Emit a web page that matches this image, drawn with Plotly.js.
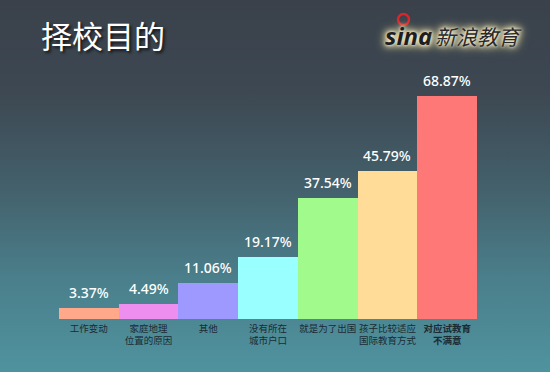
<!DOCTYPE html>
<html>
<head>
<meta charset="utf-8">
<script src="https://cdn.plot.ly/plotly-3.0.1.min.js"></script>
<style>
html,body{margin:0;padding:0;}
body{width:550px;height:372px;overflow:hidden;
background:linear-gradient(to bottom,#3a414b 0%,#3d4852 25%,#43606b 50%,#4a7f8b 75%,#4f939f 100%);}
#chart{width:550px;height:372px;}
</style>
</head>
<body>
<div id="chart"></div>
<script>
const categories = ['工作变动','家庭地理<br>位置的原因','其他','没有所在<br>城市户口','就是为了出国','孩子比较适应<br>国际教育方式','<b>对应试教育<br>不满意</b>'];
const values = [3.37, 4.49, 11.06, 19.17, 37.54, 45.79, 68.87];
const valueLabels = ['3.37%','4.49%','11.06%','19.17%','37.54%','45.79%','68.87%'];
const barColors = ['#FFA98A','#EE8FEF','#9E99FF','#99FFFF','#A0FA8C','#FFDD98','#FF7878'];
const titleText = '择校目的';

const W = 550, H = 372, ML = 59, MR = 73, MT = 30, MB = 53;
const PW = W - ML - MR, PH = H - MT - MB;
const px = x => (x - ML) / PW;
const py = y => (H - MB - y) / PH;

const idx = categories.map((c, i) => i);

const trace = {
  type: 'bar',
  x: idx,
  y: values,
  marker: {color: barColors, line: {width: 0}},
  hoverinfo: 'skip'
};

const valueAnn = idx.map(i => ({
  x: i, y: values[i], xref: 'x', yref: 'y',
  text: valueLabels[i], showarrow: false,
  yanchor: 'bottom', yshift: 4,
  font: {family: 'Noto Sans, Open Sans, sans-serif', size: 14, weight: 500, color: '#ffffff'}
}));

const glow = '0 0 3px #fffbe6, 0 0 6px #fff6cc, 0 0 9px #f3e6a8, 0 0 12px #e8d890';
const logoAnn = [
  {xref: 'paper', yref: 'paper', x: px(408), y: py(36), xanchor: 'center', yanchor: 'middle',
   text: '<b><i>sina</i></b>', showarrow: false,
   font: {family: 'Noto Sans, sans-serif', size: 24, color: '#1e1e22', shadow: glow}},
  {xref: 'paper', yref: 'paper', x: px(478), y: py(36), xanchor: 'center', yanchor: 'middle',
   text: '新浪教育', showarrow: false,
   font: {family: 'Noto Sans CJK SC, sans-serif', size: 21, style: 'italic', color: '#2a2a2e', shadow: glow}}
];

const layout = {
  width: W, height: H,
  margin: {l: ML, r: MR, t: MT, b: MB},
  paper_bgcolor: 'rgba(0,0,0,0)',
  plot_bgcolor: 'rgba(0,0,0,0)',
  showlegend: false,
  bargap: 0,
  title: {
    text: titleText, xref: 'container', yref: 'container',
    x: 41 / W, xanchor: 'left', y: 1 - 37 / H, yanchor: 'middle',
    font: {family: 'Noto Sans CJK SC, sans-serif', size: 31, color: '#ffffff',
           shadow: '2px 2px 3px rgba(0,0,0,0.7)'}
  },
  xaxis: {
    range: [-0.5, 6.5], tickmode: 'array', tickvals: idx, ticktext: categories,
    tickangle: 0, ticklabelstandoff: 2,
    showgrid: false, zeroline: false, showline: false, ticks: '',
    tickfont: {family: 'Noto Sans CJK SC, sans-serif', size: 9.5, color: '#1c2b33'},
    fixedrange: true
  },
  yaxis: {
    range: [0, 89.3], visible: false, showgrid: false, zeroline: false, fixedrange: true
  },
  shapes: [
    {type: 'circle', xref: 'paper', yref: 'paper',
     x0: px(398), x1: px(409), y0: py(25), y1: py(14),
     line: {color: '#d8262a', width: 2.5}, fillcolor: 'rgba(0,0,0,0)'}
  ],
  annotations: valueAnn.concat(logoAnn)
};

Plotly.newPlot('chart', [trace], layout, {displayModeBar: false, staticPlot: true});
</script>
</body>
</html>
